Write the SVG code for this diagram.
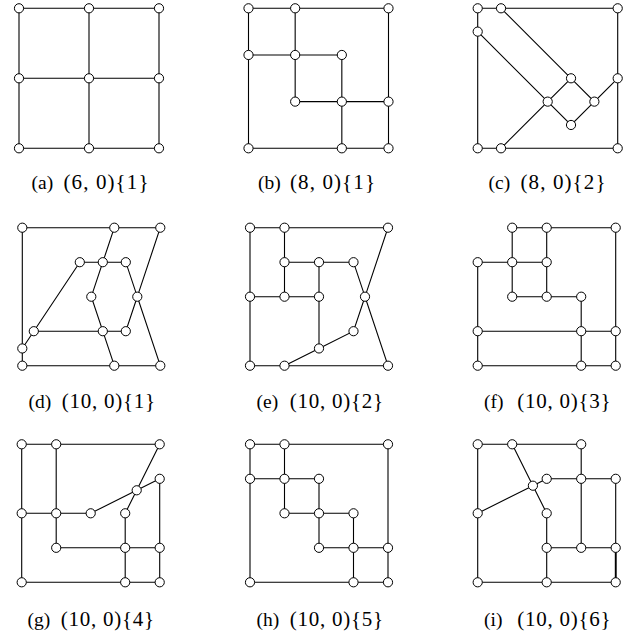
<svg xmlns="http://www.w3.org/2000/svg" xmlns:xlink="http://www.w3.org/1999/xlink" width="641" height="635" viewBox="0 0 641 635">
<style>
.e{fill:none;stroke:#000;stroke-width:1.1;stroke-linejoin:miter}
.n{fill:#fff;stroke:#000;stroke-width:1}
.t{font-family:"Liberation Serif","Times New Roman",serif;font-size:19.5px;fill:#000}
.m{font-size:21px}
</style>
<defs><circle id="c" r="4.6" class="n"/></defs>
<rect width="641" height="635" fill="#fff"/>

<!-- (a) -->
<g id="panel-a" transform="translate(19,8.3)">
<g id="a-edges"><path class="e" d="M0,0H140V140H0Z M70,0V140 M0,70H140"/></g>
<g id="a-n1"><use xlink:href="#c" x="0" y="0"/></g>
<g id="a-n2"><use xlink:href="#c" x="70" y="0"/></g>
<g id="a-n3"><use xlink:href="#c" x="140" y="0"/></g>
<g id="a-n4"><use xlink:href="#c" x="0" y="70"/></g>
<g id="a-n5"><use xlink:href="#c" x="70" y="70"/></g>
<g id="a-n6"><use xlink:href="#c" x="140" y="70"/></g>
<g id="a-n7"><use xlink:href="#c" x="0" y="140"/></g>
<g id="a-n8"><use xlink:href="#c" x="70" y="140"/></g>
<g id="a-n9"><use xlink:href="#c" x="140" y="140"/></g>
</g>

<!-- (b) -->
<g id="panel-b" transform="translate(248.5,8.3)">
<g id="b-edges"><path class="e" d="M0,0H140V140H0Z M46.67,0V93.33 M0,46.67H93.33 M93.33,46.67V140 M46.67,93.33H140"/></g>
<g id="b-n1"><use xlink:href="#c" x="0" y="0"/></g>
<g id="b-n2"><use xlink:href="#c" x="46.67" y="0"/></g>
<g id="b-n3"><use xlink:href="#c" x="140" y="0"/></g>
<g id="b-n4"><use xlink:href="#c" x="0" y="46.67"/></g>
<g id="b-n5"><use xlink:href="#c" x="46.67" y="46.67"/></g>
<g id="b-n6"><use xlink:href="#c" x="93.33" y="46.67"/></g>
<g id="b-n7"><use xlink:href="#c" x="46.67" y="93.33"/></g>
<g id="b-n8"><use xlink:href="#c" x="93.33" y="93.33"/></g>
<g id="b-n9"><use xlink:href="#c" x="140" y="93.33"/></g>
<g id="b-n10"><use xlink:href="#c" x="0" y="140"/></g>
<g id="b-n11"><use xlink:href="#c" x="93.33" y="140"/></g>
<g id="b-n12"><use xlink:href="#c" x="140" y="140"/></g>
</g>

<!-- (c) -->
<g id="panel-c" transform="translate(477.7,8.3)">
<g id="c-edges"><path class="e" d="M0,0H140V140H0Z M23.33,0L93.33,70L116.67,93.33L140,70 M0,23.33L70,93.33L93.33,116.67L116.67,93.33 M70,93.33L93.33,70 M70,93.33L23.33,140"/></g>
<g id="c-n1"><use xlink:href="#c" x="0" y="0"/></g>
<g id="c-n2"><use xlink:href="#c" x="23.33" y="0"/></g>
<g id="c-n3"><use xlink:href="#c" x="140" y="0"/></g>
<g id="c-n4"><use xlink:href="#c" x="0" y="23.33"/></g>
<g id="c-n5"><use xlink:href="#c" x="93.33" y="70"/></g>
<g id="c-n6"><use xlink:href="#c" x="140" y="70"/></g>
<g id="c-n7"><use xlink:href="#c" x="70" y="93.33"/></g>
<g id="c-n8"><use xlink:href="#c" x="116.67" y="93.33"/></g>
<g id="c-n9"><use xlink:href="#c" x="93.33" y="116.67"/></g>
<g id="c-n10"><use xlink:href="#c" x="0" y="140"/></g>
<g id="c-n11"><use xlink:href="#c" x="23.33" y="140"/></g>
<g id="c-n12"><use xlink:href="#c" x="140" y="140"/></g>
</g>

<!-- (d) -->
<g id="panel-d" transform="translate(22.3,227.7)">
<g id="d-edges"><path class="e" d="M0,0H138 M0,0V138H138 M92,0L80.5,34.5L69,69L80.5,103.5L92,138 M57.5,34.5H103.5L115,69L103.5,103.5H11.5L0,120.75 M57.5,34.5L11.5,103.5 M138,0L115,69L138,138"/></g>
<g id="d-n1"><use xlink:href="#c" x="0" y="0"/></g>
<g id="d-n2"><use xlink:href="#c" x="92" y="0"/></g>
<g id="d-n3"><use xlink:href="#c" x="138" y="0"/></g>
<g id="d-n4"><use xlink:href="#c" x="57.5" y="34.5"/></g>
<g id="d-n5"><use xlink:href="#c" x="80.5" y="34.5"/></g>
<g id="d-n6"><use xlink:href="#c" x="103.5" y="34.5"/></g>
<g id="d-n7"><use xlink:href="#c" x="69" y="69"/></g>
<g id="d-n8"><use xlink:href="#c" x="115" y="69"/></g>
<g id="d-n9"><use xlink:href="#c" x="11.5" y="103.5"/></g>
<g id="d-n10"><use xlink:href="#c" x="80.5" y="103.5"/></g>
<g id="d-n11"><use xlink:href="#c" x="103.5" y="103.5"/></g>
<g id="d-n12"><use xlink:href="#c" x="0" y="120.75"/></g>
<g id="d-n13"><use xlink:href="#c" x="0" y="138"/></g>
<g id="d-n14"><use xlink:href="#c" x="92" y="138"/></g>
<g id="d-n15"><use xlink:href="#c" x="138" y="138"/></g>
</g>

<!-- (e) -->
<g id="panel-e" transform="translate(250,227.7)">
<g id="e-edges"><path class="e" d="M0,0H138 M0,0V138H138 M34.5,0V69 M34.5,34.5H103.5L115,69L103.5,103.5L69,120.75L34.5,138 M0,69H69 M69,34.5V120.75 M138,0L115,69L138,138"/></g>
<g id="e-n1"><use xlink:href="#c" x="0" y="0"/></g>
<g id="e-n2"><use xlink:href="#c" x="34.5" y="0"/></g>
<g id="e-n3"><use xlink:href="#c" x="138" y="0"/></g>
<g id="e-n4"><use xlink:href="#c" x="34.5" y="34.5"/></g>
<g id="e-n5"><use xlink:href="#c" x="69" y="34.5"/></g>
<g id="e-n6"><use xlink:href="#c" x="103.5" y="34.5"/></g>
<g id="e-n7"><use xlink:href="#c" x="0" y="69"/></g>
<g id="e-n8"><use xlink:href="#c" x="34.5" y="69"/></g>
<g id="e-n9"><use xlink:href="#c" x="69" y="69"/></g>
<g id="e-n10"><use xlink:href="#c" x="115" y="69"/></g>
<g id="e-n11"><use xlink:href="#c" x="103.5" y="103.5"/></g>
<g id="e-n12"><use xlink:href="#c" x="69" y="120.75"/></g>
<g id="e-n13"><use xlink:href="#c" x="0" y="138"/></g>
<g id="e-n14"><use xlink:href="#c" x="34.5" y="138"/></g>
<g id="e-n15"><use xlink:href="#c" x="138" y="138"/></g>
</g>

<!-- (f) -->
<g id="panel-f" transform="translate(477.7,227.7)">
<g id="f-edges"><path class="e" d="M34.5,0H138V138H0V34.5H69 M34.5,0V69H103.5V138 M69,0V69 M0,103.5H138"/></g>
<g id="f-n1"><use xlink:href="#c" x="34.5" y="0"/></g>
<g id="f-n2"><use xlink:href="#c" x="69" y="0"/></g>
<g id="f-n3"><use xlink:href="#c" x="138" y="0"/></g>
<g id="f-n4"><use xlink:href="#c" x="0" y="34.5"/></g>
<g id="f-n5"><use xlink:href="#c" x="34.5" y="34.5"/></g>
<g id="f-n6"><use xlink:href="#c" x="69" y="34.5"/></g>
<g id="f-n7"><use xlink:href="#c" x="34.5" y="69"/></g>
<g id="f-n8"><use xlink:href="#c" x="69" y="69"/></g>
<g id="f-n9"><use xlink:href="#c" x="103.5" y="69"/></g>
<g id="f-n10"><use xlink:href="#c" x="0" y="103.5"/></g>
<g id="f-n11"><use xlink:href="#c" x="103.5" y="103.5"/></g>
<g id="f-n12"><use xlink:href="#c" x="138" y="103.5"/></g>
<g id="f-n13"><use xlink:href="#c" x="0" y="138"/></g>
<g id="f-n14"><use xlink:href="#c" x="103.5" y="138"/></g>
<g id="f-n15"><use xlink:href="#c" x="138" y="138"/></g>
</g>

<!-- (g) -->
<g id="panel-g" transform="translate(21.7,444.3)">
<g id="g-edges"><path class="e" d="M0,0H138 M0,0V138H138V34.5 M34.5,0V103.5H138 M0,69H69L115,46L138,34.5 M138,0L115,46L103.5,69V138"/></g>
<g id="g-n1"><use xlink:href="#c" x="0" y="0"/></g>
<g id="g-n2"><use xlink:href="#c" x="34.5" y="0"/></g>
<g id="g-n3"><use xlink:href="#c" x="138" y="0"/></g>
<g id="g-n4"><use xlink:href="#c" x="138" y="34.5"/></g>
<g id="g-n5"><use xlink:href="#c" x="115" y="46"/></g>
<g id="g-n6"><use xlink:href="#c" x="0" y="69"/></g>
<g id="g-n7"><use xlink:href="#c" x="34.5" y="69"/></g>
<g id="g-n8"><use xlink:href="#c" x="69" y="69"/></g>
<g id="g-n9"><use xlink:href="#c" x="103.5" y="69"/></g>
<g id="g-n10"><use xlink:href="#c" x="34.5" y="103.5"/></g>
<g id="g-n11"><use xlink:href="#c" x="103.5" y="103.5"/></g>
<g id="g-n12"><use xlink:href="#c" x="138" y="103.5"/></g>
<g id="g-n13"><use xlink:href="#c" x="0" y="138"/></g>
<g id="g-n14"><use xlink:href="#c" x="103.5" y="138"/></g>
<g id="g-n15"><use xlink:href="#c" x="138" y="138"/></g>
</g>

<!-- (h) -->
<g id="panel-h" transform="translate(250,444.3)">
<g id="h-edges"><path class="e" d="M0,0H138V138H0Z M34.5,0V69H103.5V138 M0,34.5H69V103.5H138"/></g>
<g id="h-n1"><use xlink:href="#c" x="0" y="0"/></g>
<g id="h-n2"><use xlink:href="#c" x="34.5" y="0"/></g>
<g id="h-n3"><use xlink:href="#c" x="138" y="0"/></g>
<g id="h-n4"><use xlink:href="#c" x="0" y="34.5"/></g>
<g id="h-n5"><use xlink:href="#c" x="34.5" y="34.5"/></g>
<g id="h-n6"><use xlink:href="#c" x="69" y="34.5"/></g>
<g id="h-n7"><use xlink:href="#c" x="34.5" y="69"/></g>
<g id="h-n8"><use xlink:href="#c" x="69" y="69"/></g>
<g id="h-n9"><use xlink:href="#c" x="103.5" y="69"/></g>
<g id="h-n10"><use xlink:href="#c" x="69" y="103.5"/></g>
<g id="h-n11"><use xlink:href="#c" x="103.5" y="103.5"/></g>
<g id="h-n12"><use xlink:href="#c" x="138" y="103.5"/></g>
<g id="h-n13"><use xlink:href="#c" x="0" y="138"/></g>
<g id="h-n14"><use xlink:href="#c" x="103.5" y="138"/></g>
<g id="h-n15"><use xlink:href="#c" x="138" y="138"/></g>
</g>

<!-- (i) -->
<g id="panel-i" transform="translate(477.7,444.3)">
<g id="i-edges"><path class="e" d="M0,0H103.5V103.5 M0,0V138H138V34.5H69 M34.5,0L55.2,41.4L0,69 M55.2,41.4L69,34.5 M55.2,41.4L69,69V138 M69,103.5H138"/><path class="e" style="stroke-width:1.8" d="M138,103.5V138"/></g>
<g id="i-n1"><use xlink:href="#c" x="0" y="0"/></g>
<g id="i-n2"><use xlink:href="#c" x="34.5" y="0"/></g>
<g id="i-n3"><use xlink:href="#c" x="103.5" y="0"/></g>
<g id="i-n4"><use xlink:href="#c" x="55.2" y="41.4"/></g>
<g id="i-n5"><use xlink:href="#c" x="69" y="34.5"/></g>
<g id="i-n6"><use xlink:href="#c" x="103.5" y="34.5"/></g>
<g id="i-n7"><use xlink:href="#c" x="138" y="34.5"/></g>
<g id="i-n8"><use xlink:href="#c" x="0" y="69"/></g>
<g id="i-n9"><use xlink:href="#c" x="69" y="69"/></g>
<g id="i-n10"><use xlink:href="#c" x="69" y="103.5"/></g>
<g id="i-n11"><use xlink:href="#c" x="103.5" y="103.5"/></g>
<g id="i-n12"><use xlink:href="#c" x="138" y="103.5"/></g>
<g id="i-n13"><use xlink:href="#c" x="0" y="138"/></g>
<g id="i-n14"><use xlink:href="#c" x="69" y="138"/></g>
<g id="i-n15"><use xlink:href="#c" x="138" y="138"/></g>
</g>

<!-- labels -->
<g id="labels" class="t">
<text x="31.5" y="188.5">(a)</text><text class="m" x="63.5" y="188.5" textLength="85" lengthAdjust="spacing">(6, 0){1}</text>
<text x="258" y="188.5">(b)</text><text class="m" x="290" y="188.5" textLength="85" lengthAdjust="spacing">(8, 0){1}</text>
<text x="488.5" y="188.5">(c)</text><text class="m" x="520.5" y="188.5" textLength="85" lengthAdjust="spacing">(8, 0){2}</text>
<text x="28.5" y="408">(d)</text><text class="m" x="61.8" y="408" textLength="93.3" lengthAdjust="spacing">(10, 0){1}</text>
<text x="256.5" y="408">(e)</text><text class="m" x="289.8" y="408" textLength="93.3" lengthAdjust="spacing">(10, 0){2}</text>
<text x="484" y="408">(f)</text><text class="m" x="517.3" y="408" textLength="93.3" lengthAdjust="spacing">(10, 0){3}</text>
<text x="27.5" y="625.5">(g)</text><text class="m" x="60.8" y="625.5" textLength="93.3" lengthAdjust="spacing">(10, 0){4}</text>
<text x="256.5" y="625.5">(h)</text><text class="m" x="289.8" y="625.5" textLength="93.3" lengthAdjust="spacing">(10, 0){5}</text>
<text x="484" y="625.5">(i)</text><text class="m" x="517.3" y="625.5" textLength="93.3" lengthAdjust="spacing">(10, 0){6}</text>
</g>
</svg>
